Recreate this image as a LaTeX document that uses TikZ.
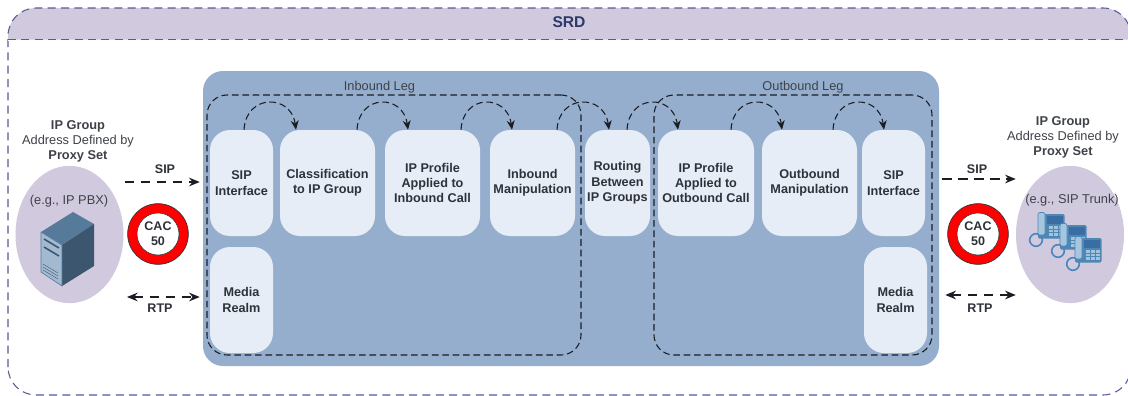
\documentclass[tikz,border=0pt]{standalone}
\usepackage{fontspec}
\setmainfont{Liberation Sans}
\usetikzlibrary{arrows.meta,calc,shapes.geometric}
\definecolor{panelblue}{HTML}{95AECE}
\definecolor{boxblue}{HTML}{E7EDF7}
\definecolor{lilac}{HTML}{D1C9DE}
\definecolor{srdline}{HTML}{5A5A95}
\definecolor{srdtext}{HTML}{2C3A6B}
\definecolor{ink}{HTML}{2E3238}
\definecolor{dashink}{HTML}{1A1E24}
\definecolor{labelgray}{HTML}{3E4248}
\definecolor{phonebody}{HTML}{4E86B4}
\definecolor{phonecord}{HTML}{4A86BD}
\definecolor{phonescreen}{HTML}{3A6DA3}
\definecolor{phonekeys}{HTML}{A3C2DC}
\definecolor{phonehandset}{HTML}{A6C6E0}
\definecolor{srvtop}{HTML}{557A9A}
\definecolor{srvfront}{HTML}{A3B9D0}
\definecolor{srvside}{HTML}{3C5670}
\tikzset{
  x=0.75pt,y=-0.75pt,
  stepbox/.style={rectangle,rounded corners=15pt,fill=boxblue,text=ink,font=\bfseries\fontsize{9.5}{11.5}\selectfont,align=center,inner sep=0pt,minimum height=79.5pt},
  legbox/.style={rectangle,rounded corners=15pt,draw=dashink,line width=0.8pt,dash pattern=on 5pt off 2.8pt,inner sep=0pt,minimum width=#1,minimum height=195pt},
  hop/.style={draw=dashink,line width=0.8pt,dash pattern=on 5pt off 2.8pt,-{Stealth[length=7pt,width=6pt]}},
  link/.style={draw=dashink,line width=0.9pt,dash pattern=on 7pt off 5pt},
  oneway/.style={link,-{Stealth[length=8pt,width=6.5pt]}},
  twoway/.style={link,{Stealth[length=8pt,width=6.5pt]}-{Stealth[length=8pt,width=6.5pt]}},
  peer/.style={ellipse,fill=lilac,inner sep=0pt,minimum width=81pt,minimum height=103pt},
  peerlabel/.style={text=labelgray,font=\fontsize{9.6}{11.5}\selectfont,align=center,inner sep=0pt},
  linklabel/.style={text=ink,font=\bfseries\fontsize{9.4}{11}\selectfont,inner sep=0pt},
  legname/.style={text=labelgray,font=\fontsize{9.6}{11}\selectfont,inner sep=0pt},
  cacring/.style={circle,fill=red,draw=ink,line width=0.5pt,inner sep=0pt,minimum size=45.5pt},
  cachole/.style={circle,fill=white,draw=ink,line width=0.4pt,inner sep=0pt,minimum size=31.5pt,text=ink,font=\bfseries\fontsize{9.4}{11.5}\selectfont,align=center},
}
\newcommand{\phoneat}[2]{%
  \begin{scope}[shift={(#1,#2)}]
    \draw[draw=phonecord,line width=1.2pt] (11,35) circle [radius=6.3];
    \fill[phonebody,rounded corners=1pt] (13,9) rectangle (39.5,33.5);
    \fill[phonescreen] (22,11) rectangle (38,19);
    \fill[phonekeys] (24,21) rectangle (38,31);
    \draw[phonebody,line width=0.35pt] (24,24) -- (38,24) (24,27.5) -- (38,27.5) (28.5,21) -- (28.5,31) (33,21) -- (33,31);
    \fill[phonehandset,draw=phonebody,line width=0.5pt,rounded corners=1.5pt] (13,7.5) rectangle (20,30);
  \end{scope}}
\begin{document}
\begin{tikzpicture}
\useasboundingbox (0,0) rectangle (1128,396);
\fill[white] (0,0) rectangle (1128,396);
% SRD frame and header
\fill[lilac] (8,39.5) [rounded corners=21pt] -- (8,8) -- (1131,8) [sharp corners] -- (1131,39.5) -- cycle;
\draw[srdline,line width=0.8pt,dash pattern=on 6pt off 4pt,rounded corners=21pt] (8,395) rectangle (1131,8);
\draw[white,line width=1pt] (8,40.5) -- (1128,40.5);
\draw[srdline,line width=0.8pt,dash pattern=on 6pt off 4pt] (8,39.5) -- (1128,39.5);
\node[text=srdtext,font=\bfseries\fontsize{11.7}{14}\selectfont,inner sep=0pt] (srd) at (569,22) {SRD};
% main panel
\node[rectangle,rounded corners=15pt,fill=panelblue,inner sep=0pt,minimum width=552pt,minimum height=221.25pt] (panel) at (571,218.5) {};
% steps
\node[stepbox,minimum width=47.25pt] (sipin) at (241.5,183) {SIP\\Interface};
\node[stepbox,minimum width=71.25pt] (classif) at (327.5,183) {Classification\\to IP Group};
\node[stepbox,minimum width=71.25pt] (ipin) at (432.5,183) {IP Profile\\Applied to\\Inbound Call};
\node[stepbox,minimum width=63.75pt] (inman) at (532.5,183) {Inbound\\Manipulation};
\node[stepbox,minimum width=48.75pt] (routing) at (617.5,183) {Routing\\Between\\IP Groups};
\node[stepbox,minimum width=72pt] (ipout) at (706,183) {IP Profile\\Applied to\\Outbound Call};
\node[stepbox,minimum width=71.25pt] (outman) at (809.5,183) {Outbound\\Manipulation};
\node[stepbox,minimum width=47.25pt] (sipout) at (893.5,183) {SIP\\Interface};
\node[stepbox,minimum width=47.25pt] (realmin) at (241.5,300) {Media\\Realm};
\node[stepbox,minimum width=47.25pt] (realmout) at (895.5,300) {Media\\Realm};
% legs
\node[legbox=280.5pt] (inleg) at (394,225) {};
\node[legbox=208.5pt] (outleg) at (793,225) {};
\node[legname] (inlegname) at (379.5,87) {Inbound Leg};
\node[legname] (outlegname) at (803,87) {Outbound Leg};
% hops
\draw[hop] ($(sipin.north)+(2.5,0)$) .. controls +(2,-36) and +(-5,-36) .. ($(classif.north)+(-31.5,0)$);
\draw[hop] ($(classif.north)+(29.5,0)$) .. controls +(2,-36) and +(-5,-36) .. ($(ipin.north)+(-24.5,0)$);
\draw[hop] ($(ipin.north)+(28.5,0)$) .. controls +(2,-36) and +(-5,-36) .. ($(inman.north)+(-20.5,0)$);
\draw[hop] ($(inman.north)+(24.5,0)$) .. controls +(2,-36) and +(-5,-36) .. ($(routing.north)+(-8.5,0)$);
\draw[hop] ($(routing.north)+(9.5,0)$) .. controls +(2,-36) and +(-5,-36) .. ($(ipout.north)+(-28,0)$);
\draw[hop] ($(ipout.north)+(25,0)$) .. controls +(2,-36) and +(-5,-36) .. ($(outman.north)+(-27.5,0)$);
\draw[hop] ($(outman.north)+(23.5,0)$) .. controls +(2,-36) and +(-5,-36) .. ($(sipout.north)+(-9.5,0)$);
% peers
\node[peer] (pbx) at (69.5,234.5) {};
\node[peer] (trunk) at (1070,234.5) {};
\node[peerlabel] (pbxname) at (78,141.5) {\textbf{IP Group}\\Address Defined by\\\textbf{Proxy Set}};
\node[peerlabel] (trunkname) at (1063,137.5) {\textbf{IP Group}\\Address Defined by\\\textbf{Proxy Set}};
\node[peerlabel] (pbxeg) at (69,201) {(e.g., IP PBX)};
\node[peerlabel] (trunkeg) at (1072,200) {(e.g., SIP Trunk)};
% server icon
\fill[srvtop] (73,212) -- (94,224) -- (62,245) -- (41,232) -- cycle;
\fill[srvfront] (41,232) -- (62,245) -- (62,286) -- (41,272) -- cycle;
\fill[srvside] (62,245) -- (94,224) -- (94,266) -- (62,286) -- cycle;
\draw[srvside,line width=1.2pt] (44,239) -- (59,248) (44,247) -- (59,256);
\draw[srvside,line width=0.3pt] (43,264) -- (58,273) (43,267) -- (58,276) (43,270) -- (58,279);
\draw[srvtop,line width=0.5pt,line join=round] (41,232) -- (41,272) -- (62,286) -- (62,245) -- cycle;
% phones
\phoneat{1025}{205}
\phoneat{1047}{216}
\phoneat{1062}{229}
% CAC
\node[cacring] (cacLo) at (158,234) {};
\node[cachole] (cacL) at (158,234) {CAC\\50};
\node[cacring] (cacRo) at (978,234) {};
\node[cachole] (cacR) at (978,234) {CAC\\50};
% links
\coordinate (sipLstart) at (125,182);
\coordinate (rtpLstart) at (127,297);
\coordinate (sipRend) at (trunk.west |- 0,179);
\coordinate (rtpRend) at (trunk.west |- 0,295);
\draw[oneway,shorten >=2.25pt] (sipLstart) -- (sipLstart -| panel.west);
\draw[twoway,shorten >=2.25pt] (rtpLstart) -- (rtpLstart -| panel.west);
\draw[oneway,shorten <=2.25pt] (panel.east |- sipRend) -- (sipRend);
\draw[twoway,shorten <=4.5pt] (panel.east |- rtpRend) -- (rtpRend);
\node[linklabel] (sipLl) at (165,169) {SIP};
\node[linklabel] (rtpLl) at (160,308) {RTP};
\node[linklabel] (sipRl) at (977,169) {SIP};
\node[linklabel] (rtpRl) at (980,308) {RTP};
\end{tikzpicture}
\end{document}
